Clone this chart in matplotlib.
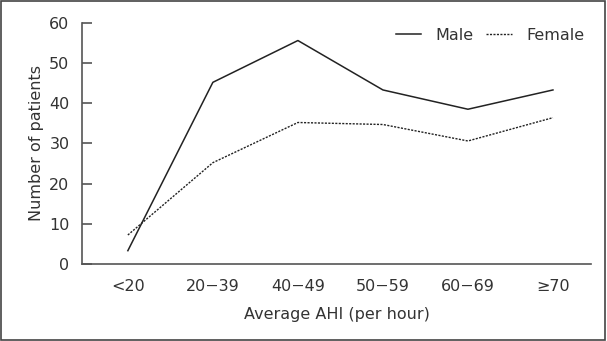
import matplotlib
matplotlib.use('Agg')
import matplotlib.pyplot as plt
from matplotlib.patches import Rectangle

# data
categories = ['<20', '20\u221239', '40\u221249', '50\u221259', '60\u221269', '\u226570']
male = [3.3, 45.2, 55.6, 43.3, 38.5, 43.3]
female = [7.2, 25.2, 35.2, 34.7, 30.6, 36.4]
y_ticks = [0, 10, 20, 30, 40, 50, 60]

TEXT = '#333333'
AXIS = '#555555'

plt.rcParams['font.family'] = ['DejaVu Sans']
plt.rcParams['font.size'] = 11.5

fig = plt.figure(figsize=(6.07, 3.41), dpi=100)
ax = fig.add_axes([0.135, 0.226, 0.839, 0.707])

x = list(range(len(categories)))
ax.plot(x, male, color='#222222', lw=1.1, ls='-', label='Male')
ax.plot(x, female, color='#222222', lw=1.0, ls=(0, (1.5, 1.0)), label='Female')

ax.set_xlim(-0.54, 5.45)
ax.set_ylim(0, 60)
ax.set_yticks(y_ticks)
ax.set_xticks(x)
ax.set_xticklabels(categories)

for s in ['top', 'right']:
    ax.spines[s].set_visible(False)
for s in ['left', 'bottom']:
    ax.spines[s].set_color(AXIS)
    ax.spines[s].set_linewidth(1.2)

ax.tick_params(axis='y', direction='in', length=7, width=1.2, color=AXIS,
               labelcolor=TEXT, pad=9)
ax.tick_params(axis='x', length=0, labelcolor=TEXT, pad=11)

ax.set_xlabel('Average AHI (per hour)', color=TEXT, labelpad=9)
ax.set_ylabel('Number of patients', color=TEXT, labelpad=4)

leg = ax.legend(loc='upper right', ncol=2, frameon=False, bbox_to_anchor=(1.015, 1.04),
                handlelength=1.6, columnspacing=0.8, handletextpad=0.9)
for t in leg.get_texts():
    t.set_color(TEXT)

# grey frame around the whole figure
fig.patches.append(Rectangle((0.002, 0.003), 0.995, 0.993, transform=fig.transFigure,
                             fill=False, edgecolor='#444444', lw=1.2))

fig.savefig('out.png', dpi=100)
